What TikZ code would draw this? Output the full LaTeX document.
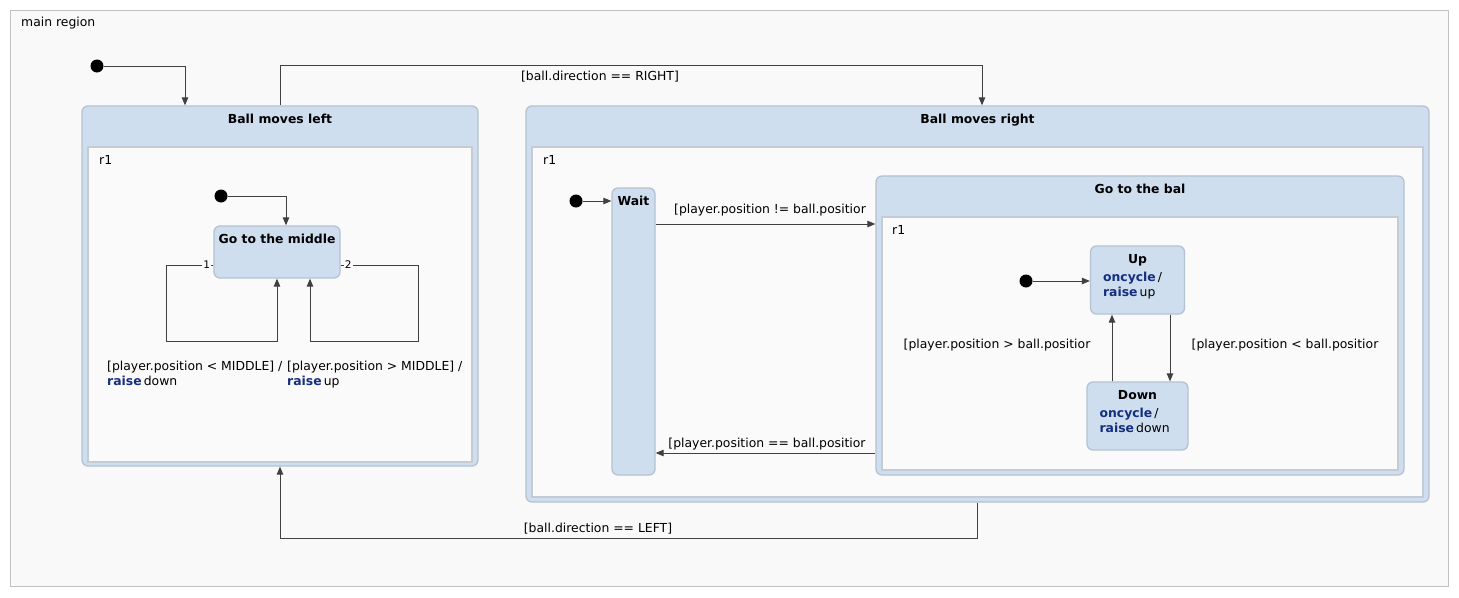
\documentclass[tikz,border=0pt]{standalone}
\usepackage{fontspec}
\setmainfont{DejaVu Sans}
\usetikzlibrary{arrows.meta}
\definecolor{mainfill}{HTML}{F9F9F9}
\definecolor{maindraw}{HTML}{C2C2C2}
\definecolor{statefill}{HTML}{CFDEEE}
\definecolor{statedraw}{HTML}{B4C2D2}
\definecolor{regionfill}{HTML}{FAFAFA}
\definecolor{regiondraw}{HTML}{C4CBD4}
\definecolor{kwblue}{HTML}{142E80}
\definecolor{edgegray}{HTML}{404040}
\newcommand{\kw}[1]{\textcolor{kwblue}{\textbf{#1}}}
\begin{document}
\begin{tikzpicture}[
        x=1pt, y=-1pt,
        font=\fontsize{12.4}{15}\selectfont,
        >={Triangle[length=8pt,width=6.5pt]},
        transition/.style={->, draw=edgegray, line width=0.9pt}
    ]
    \tikzset{
        mainregion/.style = {rectangle, draw=maindraw, fill=mainfill, line width=1pt},
        region/.style = {rectangle, draw=regiondraw, fill=regionfill, line width=1.2pt},
        statebox/.style = {rectangle, rounded corners=6pt, draw=statedraw, fill=statefill, line width=1.3pt},
        titletext/.style = {font=\fontsize{12.4}{15}\selectfont\bfseries, anchor=center, yshift=-15pt, text height=9pt, text depth=2.5pt},
        plaintext/.style = {inner sep=0pt},
        bodytext/.style = {inner sep=0pt, align=left, anchor=north west},
        portlabel/.style = {font=\fontsize{10.5}{12}\selectfont, fill=regionfill, inner sep=1pt},
        initdot/.style = {circle, fill=black, minimum size=13pt, inner sep=0pt},
    }
    \useasboundingbox (0,0) rectangle (1459,597);
    \node[mainregion, minimum width=1438pt, minimum height=576pt] (main) at (729,298) {};
    \node[plaintext, anchor=base west] (mainname) at (21,26) {main region};
    % Ball moves left
    \node[statebox, minimum width=396pt, minimum height=360pt,
        label={[titletext]north:Ball moves left}] (left) at (280,286) {};
    \node[region, minimum width=384pt, minimum height=315pt] (leftreg) at (280,304.5) {};
    \node[plaintext, anchor=base west] (leftr1) at (99,164) {r1};
    \node[statebox, minimum width=126pt, minimum height=52pt,
        label={[titletext]north:Go to the middle}] (middle) at (277,252) {};
    \node[initdot] (init2) at (221,196) {};
    \draw[transition] (init2) -| ([xshift=9pt]middle.north);
    \draw[transition] ([yshift=-13pt]middle.west) -- ++(-47,0) -- ++(0,76) -| (middle.south);
    \draw[transition] ([yshift=-13pt]middle.east) -- ++(78,0) -- ++(0,76) -| ([xshift=33pt]middle.south);
    \node[portlabel, anchor=east] (port1) at ([xshift=-2pt,yshift=-13pt]middle.west) {1};
    \node[portlabel, anchor=west] (port2) at ([xshift=3pt,yshift=-13pt]middle.east) {2};
    \node[bodytext] (lowlabel) at (107,361) {[player.position < MIDDLE] /\\\kw{raise}\,down};
    \node[bodytext] (highlabel) at (287,361) {[player.position > MIDDLE] /\\\kw{raise}\,up};
    % Ball moves right
    \node[statebox, minimum width=903pt, minimum height=396pt,
        label={[titletext]north:Ball moves right}] (right) at (977.5,304) {};
    \node[region, minimum width=891pt, minimum height=350pt] (rightreg) at (977.5,322) {};
    \node[plaintext, anchor=base west] (rightr1) at (543,164) {r1};
    \node[statebox, minimum width=43pt, minimum height=287pt,
        label={[titletext]north:Wait}] (wait) at (633.5,331.5) {};
    \node[initdot] (init3) at (576,201) {};
    \draw[transition] (init3) -- (init3 -| wait.west);
    \node[statebox, minimum width=528pt, minimum height=299pt,
        label={[titletext]north:Go to the bal}] (gobal) at (1140,325.5) {};
    \node[region, minimum width=516pt, minimum height=253pt] (gobalreg) at (1140,343.5) {};
    \node[plaintext, anchor=base west] (gobalr1) at (892,234) {r1};
    \node[statebox, minimum width=94pt, minimum height=68pt,
        label={[titletext]north:Up}] (up) at (1137.5,280) {};
    \node[bodytext] (upbody) at ([xshift=13pt,yshift=-27pt]up.north west) {\kw{oncycle}\,/\\\kw{raise}\,up};
    \node[statebox, minimum width=101pt, minimum height=68pt,
        label={[titletext]north:Down}] (down) at (1137.5,416) {};
    \node[bodytext] (downbody) at ([xshift=13pt,yshift=-27pt]down.north west) {\kw{oncycle}\,/\\\kw{raise}\,down};
    \node[initdot] (init4) at (1026,281) {};
    \draw[transition] (init4) -- (init4 -| up.west);
    \coordinate (upout) at ([xshift=32.5pt]up.south);
    \coordinate (upin) at ([xshift=-25.5pt]up.south);
    \draw[transition] (upout) -- (upout |- down.north);
    \draw[transition] (upin |- down.north) -- (upin);
    \node[plaintext, anchor=base] (uplabel) at (997,348) {[player.position > ball.positior};
    \node[plaintext, anchor=base] (downlabel) at (1285,348) {[player.position < ball.positior};
    \coordinate (waitout) at (655,224);
    \coordinate (waitin) at (655,453);
    \draw[transition] (wait.east |- waitout) -- (gobal.west |- waitout);
    \draw[transition] (gobal.west |- waitin) -- (wait.east |- waitin);
    \node[plaintext, anchor=base] (gobalabel) at (770,213) {[player.position != ball.positior};
    \node[plaintext, anchor=base] (waitlabel) at (767,447) {[player.position == ball.positior};
    % main transitions
    \node[initdot] (init1) at (97,66) {};
    \draw[transition] (init1) -| ([xshift=-95pt]left.north);
    \draw[transition] (left.north) -- ++(0,-40) -| ([xshift=4.5pt]right.north);
    \draw[transition] (right.south) -- ++(0,36) -| (left.south);
    \node[plaintext, anchor=base] (rightlabel) at (600,80) {[ball.direction == RIGHT]};
    \node[plaintext, anchor=base] (leftlabel) at (598,532) {[ball.direction == LEFT]};
\end{tikzpicture}
\end{document}
